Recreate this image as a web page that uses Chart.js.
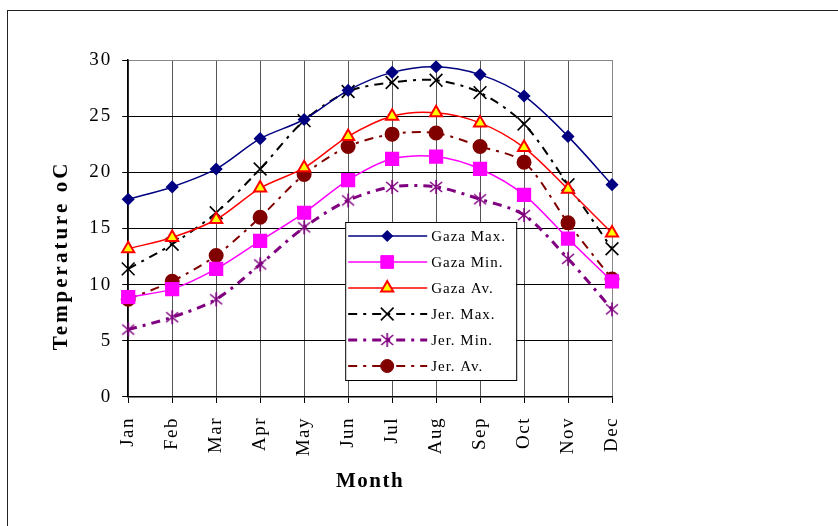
<!DOCTYPE html>
<html>
<head>
<meta charset="utf-8">
<script src="https://cdn.jsdelivr.net/npm/chart.js@4.4.1/dist/chart.umd.min.js"></script>
<style>
  html, body { margin: 0; padding: 0; background: #fff; }
  #wrap { position: relative; width: 838px; height: 526px; overflow: hidden; }
  #frame { position: absolute; left: 7px; top: 10px; width: 900px; height: 600px; border: 1px solid #222; }
  #chart { position: absolute; left: 0; top: 0; }
</style>
</head>
<body>
<div id="wrap">
  <div id="frame"></div>
  <canvas id="chart" width="838" height="526"></canvas>
</div>
<script>
const months = ["Jan", "Feb", "Mar", "Apr", "May", "Jun", "Jul", "Aug", "Sep", "Oct", "Nov", "Dec"];
const yTicks = [0, 5, 10, 15, 20, 25, 30];

const gazaMax = [17.6, 18.7, 20.3, 23.0, 24.7, 27.3, 28.9, 29.4, 28.7, 26.8, 23.2, 18.9];
const gazaMin = [8.9, 9.6, 11.4, 13.9, 16.4, 19.3, 21.2, 21.4, 20.3, 18.0, 14.1, 10.3];
const gazaAv = [13.2, 14.2, 15.8, 18.6, 20.4, 23.2, 25.0, 25.3, 24.4, 22.2, 18.5, 14.6];
const jerMax = [11.4, 13.6, 16.4, 20.3, 24.6, 27.2, 28.0, 28.2, 27.1, 24.3, 18.9, 13.2];
const jerMin = [6.0, 7.1, 8.7, 11.8, 15.1, 17.5, 18.7, 18.7, 17.6, 16.2, 12.3, 7.8];
const jerAv = [8.7, 10.3, 12.6, 16.0, 19.8, 22.3, 23.4, 23.5, 22.3, 20.9, 15.5, 10.5];

const serif = '"Liberation Serif", "Times New Roman", serif';
const jerDash = [9, 6, 3, 6];

// Excel style star marker: X with a vertical bar
function starMarker(color) {
  const c = document.createElement("canvas");
  c.width = c.height = 16;
  const g = c.getContext("2d");
  g.strokeStyle = color;
  g.lineWidth = 1.6;
  g.beginPath();
  g.moveTo(8, 1); g.lineTo(8, 15);
  g.moveTo(2, 3); g.lineTo(14, 13);
  g.moveTo(14, 3); g.lineTo(2, 13);
  g.stroke();
  return c;
}

function series(label, data, color, extra) {
  return Object.assign({
    label: label,
    data: data,
    borderColor: color,
    backgroundColor: color,
    pointBackgroundColor: color,
    pointBorderColor: color,
    borderWidth: 1.5,
    tension: 0.3,
    fill: false
  }, extra);
}

const datasets = [
  series("Gaza Max.", gazaMax, "#000080", { pointStyle: "rectRot", pointRadius: 5.5 }),
  series("Gaza Min.", gazaMin, "#ff00ff", { pointStyle: "rect", pointRadius: 9 }),
  series("Gaza Av.", gazaAv, "#ff0000", { pointStyle: "triangle", pointRadius: 7, pointBackgroundColor: "#ffff00", pointBorderColor: "#ff0000", pointBorderWidth: 2 }),
  series("Jer. Max.", jerMax, "#000000", { pointStyle: "crossRot", pointRadius: 9, pointBorderWidth: 1.6, borderWidth: 2, borderDash: jerDash }),
  series("Jer. Min.", jerMin, "#800080", { pointStyle: starMarker("#800080"), pointRadius: 8, borderWidth: 3, borderDash: jerDash }),
  series("Jer. Av.", jerAv, "#800000", { pointStyle: "circle", pointRadius: 6.5, borderWidth: 2, borderDash: jerDash })
];

// spread text like the original figure
function spaced(ctx, spacing, fn) {
  ctx.letterSpacing = spacing;
  fn();
  ctx.letterSpacing = "0px";
}

const spacingPatch = {
  id: "spacingPatch",
  afterLayout(chart) {
    const ctx = chart.ctx;
    const proto = Chart.Scale.prototype;
    const x = chart.scales.x, y = chart.scales.y;
    x.drawLabels = function (a) { spaced(ctx, "1.5px", () => proto.drawLabels.call(this, a)); };
    y.drawLabels = function (a) { spaced(ctx, "2px", () => proto.drawLabels.call(this, a)); };
    x.drawTitle = function () { spaced(ctx, "1.5px", () => proto.drawTitle.call(this)); };
    // the y title sits a little below the middle in the original
    y.drawTitle = function () {
      ctx.save();
      ctx.translate(0, 27);
      spaced(ctx, "3px", () => proto.drawTitle.call(this));
      ctx.restore();
    };
  }
};

const legendBox = {
  id: "legendBox",
  afterDatasetsDraw(chart) {
    const { ctx, chartArea } = chart;
    const x = chartArea.left + 217, y = chartArea.top + 162, w = 171, h = 158;
    ctx.save();
    ctx.fillStyle = "#fff";
    ctx.fillRect(x, y, w, h);
    ctx.strokeStyle = "#000";
    ctx.lineWidth = 1;
    ctx.strokeRect(x + 0.5, y + 0.5, w, h);
    chart.data.datasets.forEach((ds, i) => {
      const cy = y + 14 + i * 26;
      ctx.strokeStyle = ds.borderColor;
      ctx.lineWidth = ds.borderWidth;
      ctx.setLineDash(ds.borderDash || []);
      ctx.beginPath();
      ctx.moveTo(x + 3, cy);
      ctx.lineTo(x + 82, cy);
      ctx.stroke();
      ctx.setLineDash([]);
      ctx.fillStyle = ds.pointBackgroundColor;
      ctx.strokeStyle = ds.pointBorderColor;
      ctx.lineWidth = ds.pointBorderWidth || 1;
      Chart.helpers.drawPoint(ctx, {
        pointStyle: ds.pointStyle, radius: ds.pointRadius,
        borderWidth: ds.pointBorderWidth || 1, rotation: 0
      }, x + 42, cy);
      ctx.fillStyle = "#000";
      ctx.font = "15px " + serif;
      ctx.textBaseline = "middle";
      ctx.letterSpacing = "1px";
      ctx.fillText(ds.label, x + 86, cy + 1);
      ctx.letterSpacing = "0px";
    });
    ctx.restore();
  }
};

new Chart(document.getElementById("chart"), {
  type: "line",
  data: { labels: months, datasets: datasets },
  plugins: [spacingPatch, legendBox],
  options: {
    responsive: false,
    animation: false,
    layout: { padding: { left: 49, top: 60, right: 226, bottom: 28 } },
    plugins: { legend: { display: false }, tooltip: { enabled: false } },
    scales: {
      x: {
        type: "category",
        offset: false,
        grid: {
          offset: false,
          color: (c) => (c.index === months.length - 1 ? "#888" : "#555"),
          tickColor: "#000",
          tickLength: 6
        },
        border: { color: "#000", width: 1.5 },
        ticks: {
          color: "#000",
          font: { family: serif, size: 19 },
          maxRotation: 90,
          minRotation: 90,
          padding: 14,
          autoSkip: false
        },
        title: {
          display: true,
          text: "Month",
          color: "#000",
          font: { family: serif, size: 21, weight: "bold" },
          padding: { top: 3, bottom: 4 }
        }
      },
      y: {
        min: 0,
        max: 30,
        afterBuildTicks: (scale) => { scale.ticks = yTicks.map((v) => ({ value: v })); },
        grid: {
          color: (c) => (c.tick && c.tick.value === 30 ? "#888" : "#000"),
          tickColor: "#000",
          tickLength: 6
        },
        border: { color: "#000", width: 1.5 },
        ticks: {
          color: "#000",
          font: { family: serif, size: 19 },
          padding: 10
        },
        title: {
          display: true,
          text: "Temperature oC",
          color: "#000",
          font: { family: serif, size: 21, weight: "bold" },
          padding: { top: 0, bottom: 9 }
        }
      }
    }
  }
});
</script>
</body>
</html>
